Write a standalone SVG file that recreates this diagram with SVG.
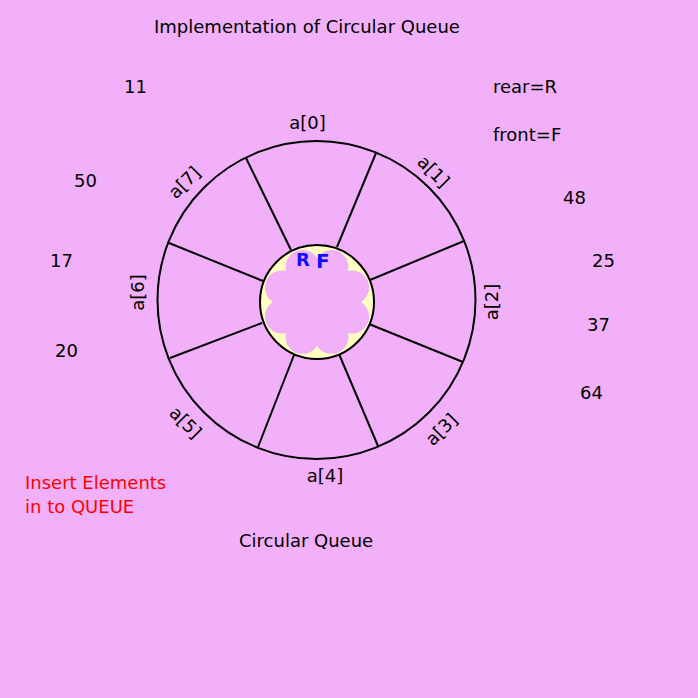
<svg xmlns="http://www.w3.org/2000/svg" width="698" height="698" viewBox="0 0 698 698">
<style>
.t{font-family:"DejaVu Sans",Verdana,sans-serif;font-size:18px;fill:#000}
.lbl{font-family:"DejaVu Sans",Verdana,sans-serif;font-size:18px;fill:#000;text-anchor:middle}
.red{fill:#ff0000}
.ln{stroke:#000;stroke-width:2;fill:none}
.pk{fill:#f2b0fa}
.rf{font-family:"DejaVu Sans",Verdana,sans-serif;font-weight:bold;fill:#1010ff}
</style>
<rect width="698" height="698" fill="#f2b0fa"/>
<g id="title"><text class="t" x="154" y="33">Implementation of Circular Queue</text></g>
<g id="queue">
<circle cx="316.5" cy="300" r="159" class="ln"/>
<g id="spokes">
<line class="ln" x1="246" y1="158" x2="291" y2="250"/>
<line class="ln" x1="376" y1="153" x2="337" y2="247"/>
<line class="ln" x1="464" y1="241" x2="370" y2="280"/>
<line class="ln" x1="463" y1="362" x2="369" y2="324"/>
<line class="ln" x1="378" y1="446" x2="339" y2="354"/>
<line class="ln" x1="258" y1="447" x2="294" y2="355"/>
<line class="ln" x1="170" y1="358" x2="262" y2="323"/>
<line class="ln" x1="169" y1="243" x2="263" y2="281"/>
</g>
<g id="hub">
<circle cx="317" cy="302" r="57" fill="#ffffc0" stroke="#000" stroke-width="2"/>
<g class="pk" transform="translate(317,302)">
<circle r="40"/>
<circle cx="35.1" cy="14.5" r="17"/>
<circle cx="14.5" cy="35.1" r="17"/>
<circle cx="-14.5" cy="35.1" r="17"/>
<circle cx="-35.1" cy="14.5" r="17"/>
<circle cx="-35.1" cy="-14.5" r="17"/>
<circle cx="-14.5" cy="-35.1" r="17"/>
<circle cx="14.5" cy="-35.1" r="17"/>
<circle cx="35.1" cy="-14.5" r="17"/>
</g>
<text class="rf" x="296" y="266" font-size="18">R</text>
<text class="rf" x="316" y="268" font-size="20">F</text>
</g>
</g>
<g id="labels">
<text class="lbl" x="307.5" y="129">a[0]</text>
<text class="lbl" x="325" y="482">a[4]</text>
<text class="lbl" transform="translate(433,172) rotate(45)" y="5.5">a[1]</text>
<text class="lbl" transform="translate(492,302) rotate(-90)" y="5.5">a[2]</text>
<text class="lbl" transform="translate(442,430) rotate(-45)" y="5.5">a[3]</text>
<text class="lbl" transform="translate(185,423) rotate(45)" y="5.5">a[5]</text>
<text class="lbl" transform="translate(138,292.5) rotate(-90)" y="5.5">a[6]</text>
<text class="lbl" transform="translate(185,183) rotate(-45)" y="5.5">a[7]</text>
</g>
<g id="values">
<text class="t" x="124" y="93">11</text>
<text class="t" x="74" y="187">50</text>
<text class="t" x="50" y="267">17</text>
<text class="t" x="55" y="357">20</text>
<text class="t" x="563" y="204">48</text>
<text class="t" x="592" y="267">25</text>
<text class="t" x="587" y="331">37</text>
<text class="t" x="580" y="399">64</text>
</g>
<g id="legend">
<text class="t" x="493" y="93">rear=R</text>
<text class="t" x="493" y="141">front=F</text>
</g>
<g id="insert">
<text class="t red" x="25" y="489">Insert Elements</text>
<text class="t red" x="25" y="513">in to QUEUE</text>
</g>
<g id="caption"><text class="t" x="239" y="547">Circular Queue</text></g>
</svg>
